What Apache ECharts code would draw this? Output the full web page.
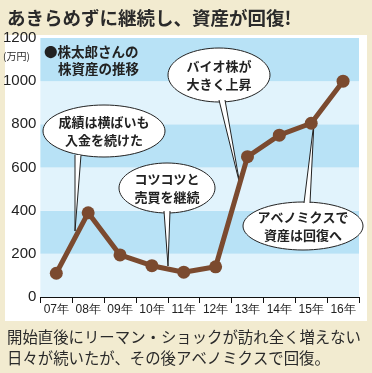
<!DOCTYPE html>
<html><head><meta charset="utf-8">
<script src="https://cdn.jsdelivr.net/npm/echarts@6/dist/echarts.min.js"></script>
<style>html,body{margin:0;padding:0;background:#f2ebd0;}#c{width:372px;height:373px;}</style>
</head><body><div id="c"></div>
<script>
var categories = ['07年','08年','09年','10年','11年','12年','13年','14年','15年','16年'];
var assetValues = [110, 390, 195, 145, 115, 140, 650, 750, 805, 1000];
var yTicks = [0, 200, 400, 600, 800, 1000, 1200];

var FONT = '"Noto Sans CJK JP", sans-serif';
var NARROW = '"Liberation Sans Narrow", "Liberation Sans", sans-serif';

function ellipse(cx, cy, rx, ry) {
  var pts = [];
  for (var i = 0; i < 72; i++) {
    var a = i / 72 * Math.PI * 2;
    pts.push([cx + rx * Math.cos(a), cy + ry * Math.sin(a)]);
  }
  return pts;
}
function bubble(cx, cy, rx, ry, b1, b2, tip, lines) {
  var els = [];
  els.push({type: 'polygon', shape: {points: ellipse(cx, cy, rx, ry)}, style: {fill: '#fff', stroke: '#222', lineWidth: 1}, z: 10});
  els.push({type: 'polygon', shape: {points: [b1, tip, b2]}, style: {fill: '#fff', stroke: null}, z: 11});
  els.push({type: 'polyline', shape: {points: [b1, tip, b2]}, style: {stroke: '#222', lineWidth: 1, fill: null}, z: 12});
  els.push({type: 'text', x: cx, y: cy, z: 13, style: {text: lines, fill: '#222', font: 'bold 13px ' + FONT, align: 'center', verticalAlign: 'middle', lineHeight: 18}});
  return els;
}

var chart = echarts.init(document.getElementById('c'));
var graphics = [
  {type: 'rect', shape: {x: 5, y: 35, width: 362, height: 286}, style: {fill: '#fff'}, z: -10},
  {type: 'text', x: 7, y: 18, style: {text: 'あきらめずに継続し、資産が回復!', fill: '#2a2a2a', font: 'bold 18.5px ' + FONT, verticalAlign: 'middle'}},
  {type: 'text', x: 7, y: 337, style: {text: '開始直後にリーマン・ショックが訪れ全く増えない', fill: '#2a2a2a', font: '15.4px ' + FONT, verticalAlign: 'middle'}},
  {type: 'text', x: 7, y: 358, style: {text: '日々が続いたが、その後アベノミクスで回復。', fill: '#2a2a2a', font: '15.4px ' + FONT, verticalAlign: 'middle'}},
  {type: 'text', x: 3, y: 56, style: {text: '(万円)', fill: '#2a2a2a', font: '10px ' + FONT, verticalAlign: 'middle'}},
  {type: 'text', x: 44, y: 52, z: 5, style: {text: '●株太郎さんの', fill: '#222', font: 'bold 13.5px ' + FONT, verticalAlign: 'middle'}},
  {type: 'text', x: 58, y: 69, z: 5, style: {text: '株資産の推移', fill: '#222', font: 'bold 13.5px ' + FONT, verticalAlign: 'middle'}}
];
graphics = graphics
  .concat(bubble(104, 131, 61, 26, [75, 155], [81, 155], [75, 231], '成績は横ばいも\n入金を続けた'))
  .concat(bubble(219, 75, 51, 27, [219, 100], [225, 100], [240, 185], 'バイオ株が\n大きく上昇'))
  .concat(bubble(167, 188, 48, 25, [164, 211], [170, 211], [168, 266], 'コツコツと\n売買を継続'))
  .concat(bubble(303, 226, 60, 24, [304, 203], [310, 203], [314, 122], 'アベノミクスで\n資産は回復へ'));

chart.setOption({
  animation: false,
  grid: {left: 39, right: 13, top: 38, bottom: 76},
  xAxis: {
    type: 'category', data: categories, boundaryGap: true,
    axisLine: {lineStyle: {color: '#111', width: 1}},
    axisTick: {show: true, length: 6, lineStyle: {color: '#111'}},
    axisLabel: {color: '#222', fontSize: 12, fontFamily: NARROW, margin: 7, interval: 0}
  },
  yAxis: {
    type: 'value', min: yTicks[0], max: yTicks[yTicks.length - 1], interval: 200,
    axisLine: {show: false}, axisTick: {show: false},
    axisLabel: {color: '#222', fontSize: 15, fontFamily: NARROW, margin: 4, formatter: function (v) { return String(v); }},
    splitLine: {show: false},
    splitArea: {show: true, areaStyle: {color: ['#e1f3fc', '#b8e2f6']}}
  },
  series: [{
    type: 'line', data: assetValues, z: 20,
    symbol: 'circle', symbolSize: 13,
    lineStyle: {color: '#7b4a2f', width: 5},
    itemStyle: {color: '#7b4a2f'}
  }],
  graphic: graphics
});
</script></body></html>
